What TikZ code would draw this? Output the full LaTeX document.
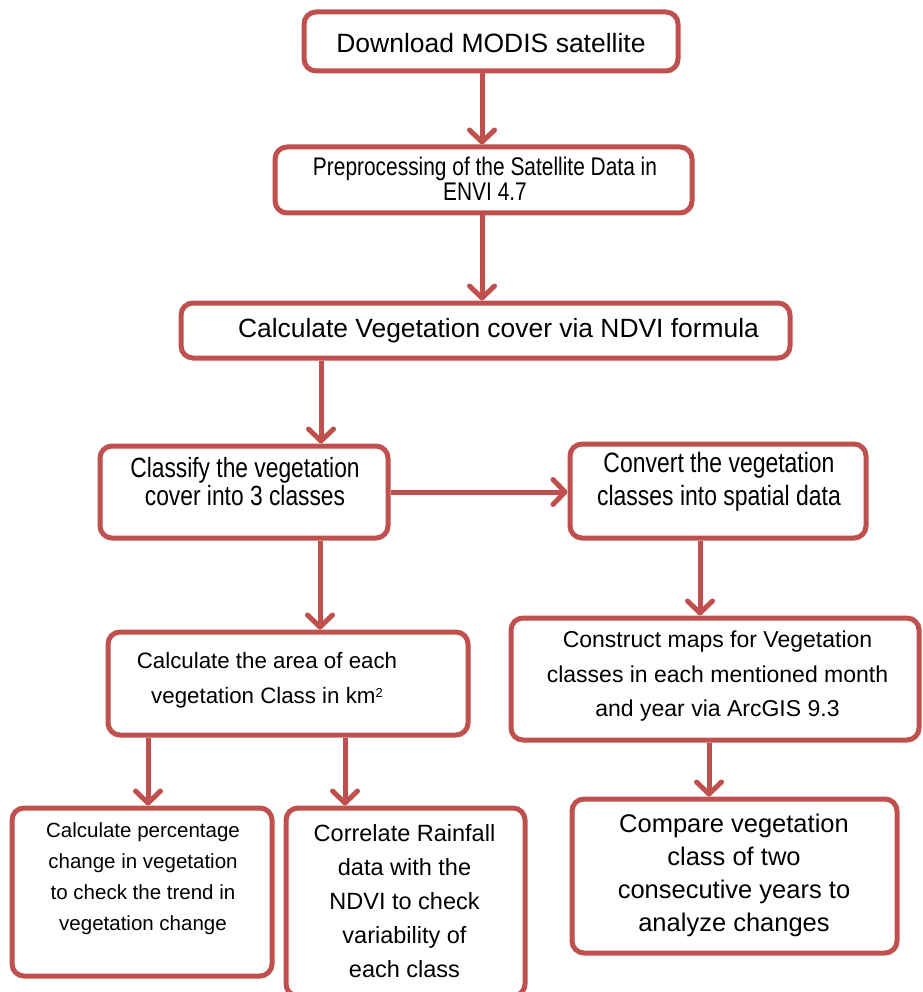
\documentclass[tikz,border=0pt]{standalone}
\usepackage{fontspec}
\setmainfont{Liberation Sans}
\newfontfamily\narrowfont[FakeStretch=0.82]{Liberation Sans}
\usetikzlibrary{arrows.meta}
\definecolor{boxred}{HTML}{C0504D}
\begin{document}
\begin{tikzpicture}[x=1pt,y=-1pt,
  box/.style={draw=boxred, line width=5pt, rounded corners=12pt, fill=white, inner sep=0pt},
  flow/.style={draw=boxred, line width=5pt, -{Straight Barb[length=12pt,width=25pt,round]}},
  txt/.style={align=center, inner sep=0pt, text=black}]
\useasboundingbox (0,0) rectangle (922,992);
% boxes
\node[box, minimum width=374pt, minimum height=59pt] (b1) at (491,41.5) {};
\node[box, minimum width=417pt, minimum height=66pt] (b2) at (483.5,180) {};
\node[box, minimum width=609pt, minimum height=55pt] (b3) at (485.5,330.5) {};
\node[box, minimum width=288pt, minimum height=92pt] (b4) at (244,492) {};
\node[box, minimum width=296pt, minimum height=94pt] (b5) at (718,491) {};
\node[box, minimum width=360pt, minimum height=103pt] (b6) at (288,683.5) {};
\node[box, minimum width=408pt, minimum height=122pt] (b7) at (715,679) {};
\node[box, minimum width=325pt, minimum height=154pt] (b8) at (734.5,876) {};
\node[box, minimum width=260pt, minimum height=168pt] (b9) at (142,892) {};
\node[box, minimum width=239pt, minimum height=188pt] (b10) at (405.5,902) {};
% texts
\node[txt, font=\fontsize{26.5}{30}\selectfont] (t1) at (491,43) {Download MODIS satellite};
\node[txt, font=\narrowfont\fontsize{25.5}{25.5}\selectfont] (t2) at (485,179) {Preprocessing of the Satellite Data in\\ENVI 4.7};
\node[txt, font=\fontsize{26.4}{30}\selectfont] (t3) at (498.5,331) {Calculate Vegetation cover via NDVI formula};
\node[txt, font=\narrowfont\fontsize{27.8}{28}\selectfont] (t4) at (245,482) {Classify the vegetation\\cover into 3 classes};
\node[txt, font=\narrowfont\fontsize{28}{33}\selectfont] (t5) at (719,482) {Convert the vegetation\\classes into spatial data};
\node[txt, font=\fontsize{22.3}{35}\selectfont] (t6) at (267,680.5) {Calculate the area of each\\vegetation Class in km\raisebox{6pt}{\fontsize{13}{13}\selectfont 2}};
\node[txt, font=\fontsize{23}{34.5}\selectfont] (t7) at (717.5,676.5) {Construct maps for Vegetation\\classes in each mentioned month\\and year via ArcGIS 9.3};
\node[txt, font=\fontsize{25.5}{33}\selectfont] (t8) at (734,875) {Compare vegetation\\class of two\\consecutive years to\\analyze changes};
\node[txt, font=\fontsize{20.5}{31}\selectfont] (t9) at (143,879) {Calculate percentage\\change in vegetation\\to check the trend in\\vegetation change};
\node[txt, font=\fontsize{23.5}{34}\selectfont] (t10) at (404.5,901.5) {Correlate Rainfall\\data with the\\NDVI to check\\variability of\\each class};
% connector columns
\coordinate (xa) at (482,0);
\coordinate (xb) at (321,0);
\coordinate (xc) at (320,0);
\coordinate (xd) at (700,0);
\coordinate (xe) at (148,0);
\coordinate (xf) at (345,0);
\coordinate (xg) at (709,0);
% connectors
\draw[flow] (b1.south -| xa) -- (b2.north -| xa);
\draw[flow] (b2.south -| xa) -- (b3.north -| xa);
\draw[flow] (b3.south -| xb) -- (b4.north -| xb);
\draw[flow] (b4.east) -- (b4.east -| b5.west);
\draw[flow] (b4.south -| xc) -- (b6.north -| xc);
\draw[flow] (b5.south -| xd) -- (b7.north -| xd);
\draw[flow] (b6.south -| xe) -- (b9.north -| xe);
\draw[flow] (b6.south -| xf) -- (b10.north -| xf);
\draw[flow] (b7.south -| xg) -- (b8.north -| xg);
\end{tikzpicture}
\end{document}
